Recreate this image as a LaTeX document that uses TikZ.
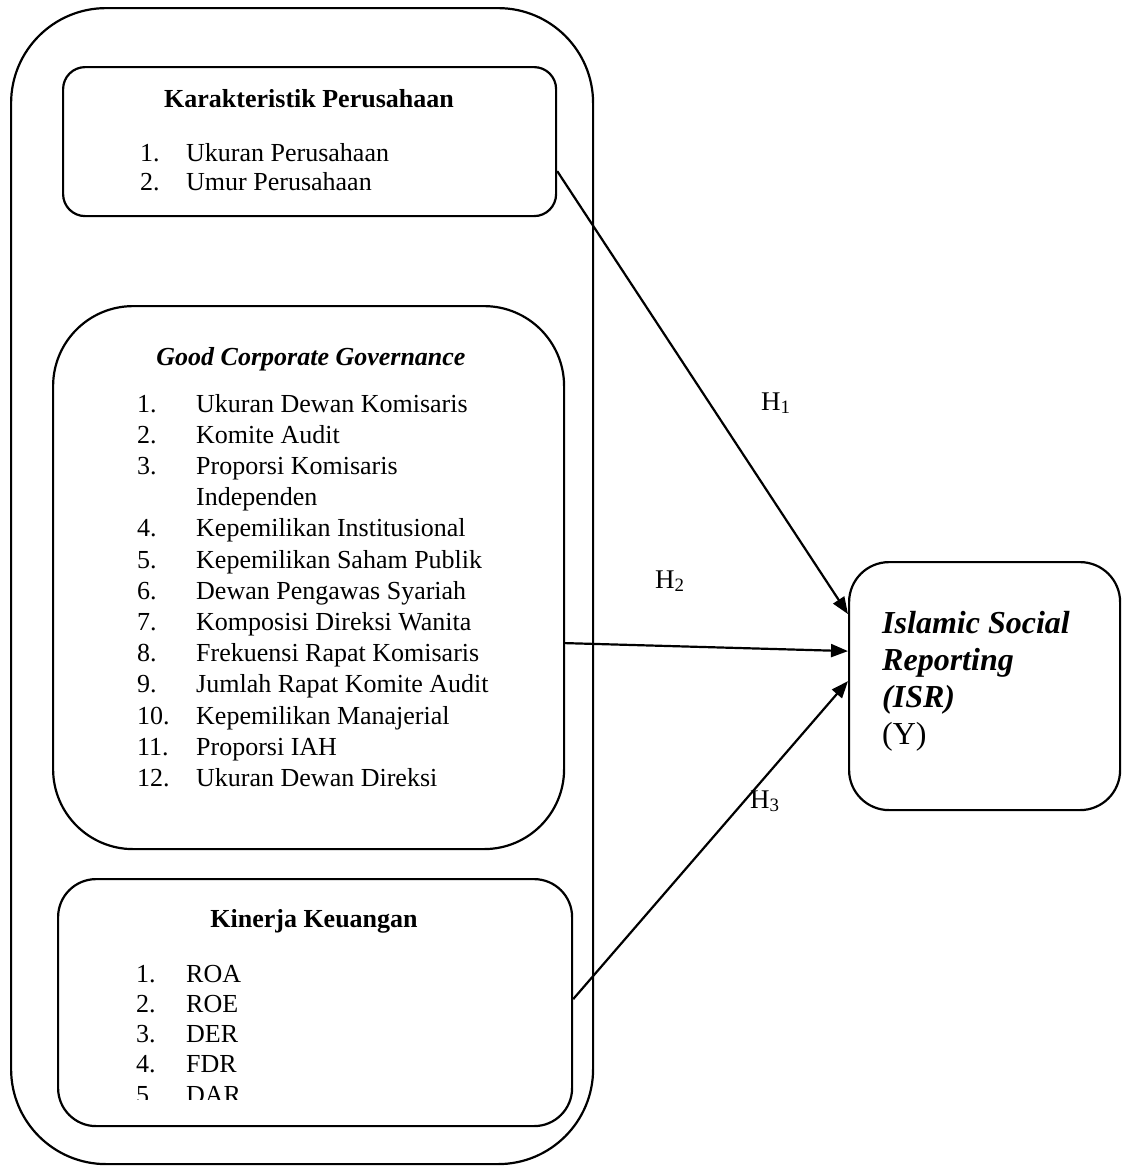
\documentclass[tikz,border=0pt]{standalone}
\usepackage{fontspec}
\setmainfont{Liberation Serif}
\usetikzlibrary{arrows.meta}
\begin{document}
\begin{tikzpicture}[x=1pt,y=-1pt,
  box/.style={draw, line width=2.2pt, inner sep=0pt, anchor=north west},
  txt/.style={anchor=base west, inner sep=0pt, font=\fontsize{26}{30}\selectfont},
  ttl/.style={anchor=base, inner sep=0pt, font=\fontsize{26}{30}\selectfont\bfseries},
  isrt/.style={anchor=base west, inner sep=0pt, font=\fontsize{32}{37}\selectfont\bfseries\itshape},
  hlab/.style={anchor=base west, inner sep=0pt, font=\fontsize{27}{30}\selectfont},
  arr/.style={line width=2.2pt, -{Triangle[length=17pt,width=13pt]}}]
\useasboundingbox (0,0) rectangle (1127,1173);

% boxes
\node[box, rounded corners=95pt, minimum width=582pt, minimum height=1156pt] (outer) at (10,7) {};
\node[box, rounded corners=22pt, minimum width=493pt, minimum height=149pt] (kp) at (62,66) {};
\node[box, rounded corners=80pt, minimum width=511pt, minimum height=543pt] (gcg) at (52,305) {};
\node[box, rounded corners=38pt, minimum width=514pt, minimum height=247pt] (kk) at (57,878) {};
\node[box, rounded corners=40pt, minimum width=271pt, minimum height=248pt] (isr) at (848,561) {};

% Karakteristik Perusahaan
\node[ttl] (kpt) at (309,107) {Karakteristik Perusahaan};
\node[txt] (kn1) at (140,161) {1.};
\node[txt] (kt1) at (186,161) {Ukuran Perusahaan};
\node[txt] (kn2) at (140,190) {2.};
\node[txt] (kt2) at (186,190) {Umur Perusahaan};

% Good Corporate Governance
\node[ttl, font=\fontsize{26}{30}\selectfont\bfseries\itshape] (gcgt) at (311,365) {Good Corporate Governance};
\foreach \k/\num/\t in {0/1./Ukuran Dewan Komisaris,1/2./Komite Audit,2/3./Proporsi Komisaris,3//Independen,4/4./Kepemilikan Institusional,5/5./Kepemilikan Saham Publik,6/6./Dewan Pengawas Syariah,7/7./Komposisi Direksi Wanita,8/8./Frekuensi Rapat Komisaris,9/9./Jumlah Rapat Komite Audit,10/10./Kepemilikan Manajerial,11/11./Proporsi IAH,12/12./Ukuran Dewan Direksi}{
  \node[txt] (gn\k) at (137,{412+31.2*\k}) {\num};
  \node[txt] (gt\k) at (196,{412+31.2*\k}) {\t};
}

% Kinerja Keuangan
\node[ttl] (kkt) at (314,927) {Kinerja Keuangan};
\begin{scope}
\clip (0,0) rectangle (1127,1099);
\foreach \k/\num/\t in {0/1./ROA,1/2./ROE,2/3./DER,3/4./FDR,4/5./DAR}{
  \node[txt] (kn\k) at (136,{982+30.3*\k}) {\num};
  \node[txt] (kkt\k) at (186,{982+30.3*\k}) {\t};
}
\end{scope}

% ISR
\node[isrt] (i1) at (882,633) {Islamic Social};
\node[isrt] (i2) at (882,670) {Reporting};
\node[isrt] (i3) at (882,707) {(ISR)};
\node[isrt, font=\fontsize{32}{37}\selectfont] (i4) at (882,744) {(Y)};

% arrows
\draw[arr] ([yshift=-29.5pt]kp.east) -- ([yshift=72pt]isr.west);
\draw[arr] ([yshift=-65.5pt]gcg.east) -- ([yshift=35pt]isr.west);
\draw[arr] ([yshift=3.5pt]kk.east) -- ([yshift=5pt]isr.west);

% labels
\node[hlab] (h1) at (761,410) {H\textsubscript{1}};
\node[hlab] (h2) at (655,588) {H\textsubscript{2}};
\node[hlab] (h3) at (750,808) {H\textsubscript{3}};
\end{tikzpicture}
\end{document}
